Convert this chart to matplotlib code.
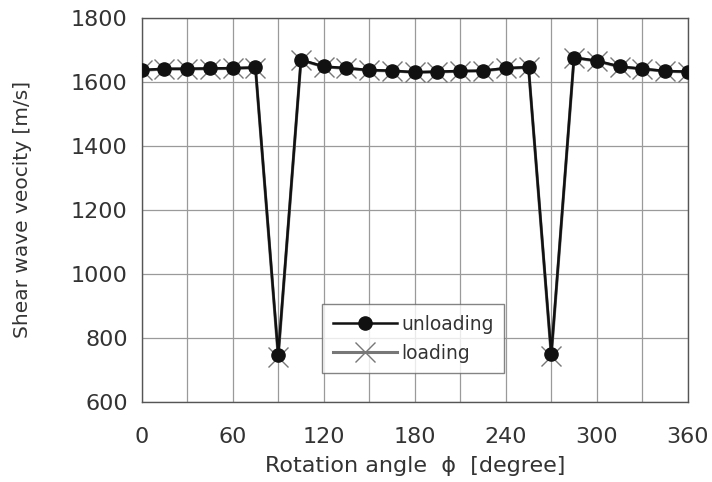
import matplotlib.pyplot as plt
import numpy as np

# rotation angle, every 15 degrees
angle = np.arange(0, 361, 15)

# shear wave velocity [m/s]
unloading = [1637, 1641, 1641, 1642, 1643, 1645, 747, 1669, 1648, 1643, 1637, 1635, 1630,
             1632, 1634, 1635, 1643, 1646, 749, 1676, 1666, 1648, 1641, 1634, 1632]
loading = [1636, 1640, 1640, 1641, 1642, 1644, 742, 1668, 1647, 1642, 1636, 1634, 1630,
           1631, 1633, 1634, 1642, 1645, 744, 1675, 1665, 1647, 1640, 1633, 1631]

xticks = [0, 60, 120, 180, 240, 300, 360]
yticks = [600, 800, 1000, 1200, 1400, 1600, 1800]

plt.rcParams['font.family'] = ['DejaVu Sans']
txt = '#333333'

fig = plt.figure(figsize=(7.12, 4.82), dpi=100)
ax = fig.add_axes([0.199, 0.166, 0.767, 0.797])

# grid every 30 deg / 200 m/s
for gx in range(0, 361, 30):
    ax.axvline(gx, color='#9a9a9a', lw=0.9, zorder=0)
for gy in yticks:
    ax.axhline(gy, color='#9a9a9a', lw=0.9, zorder=0)

ax.plot(angle, loading, color='#777777', lw=2.2, marker='x', markersize=15,
        markeredgewidth=1.0, markeredgecolor='#777777', label='loading', zorder=2)
ax.plot(angle, unloading, color='#111111', lw=1.8, marker='o', markersize=9.5,
        markerfacecolor='#111111', markeredgecolor='#111111', label='unloading', zorder=3)

ax.set_xlim(0, 360)
ax.set_ylim(600, 1800)
ax.set_xticks(xticks)
ax.set_yticks(yticks)
ax.tick_params(length=0, labelsize=16, labelcolor=txt)
ax.tick_params(axis='x', pad=18)
ax.tick_params(axis='y', pad=10)
for s in ax.spines.values():
    s.set_color('#555555')
    s.set_linewidth(1.0)

ax.set_xlabel('Rotation angle  ϕ  [degree]', fontsize=16, color=txt)
ax.xaxis.set_label_coords(0.5, -0.14)
ax.set_ylabel('Shear wave veocity [m/s]', fontsize=14.5, color=txt)
ax.yaxis.set_label_coords(-0.2, 0.5)

handles, labels = ax.get_legend_handles_labels()
leg = ax.legend(handles[::-1], labels[::-1], loc='lower left',
                bbox_to_anchor=(0.331, 0.075), fontsize=13.5, handlelength=3.4,
                handletextpad=0.25, frameon=True, fancybox=False, borderpad=0.55,
                labelspacing=0.55, labelcolor=txt, borderaxespad=0)
leg.get_frame().set_edgecolor('#666666')
leg.get_frame().set_linewidth(1.0)

fig.savefig('out.png', dpi=100)
